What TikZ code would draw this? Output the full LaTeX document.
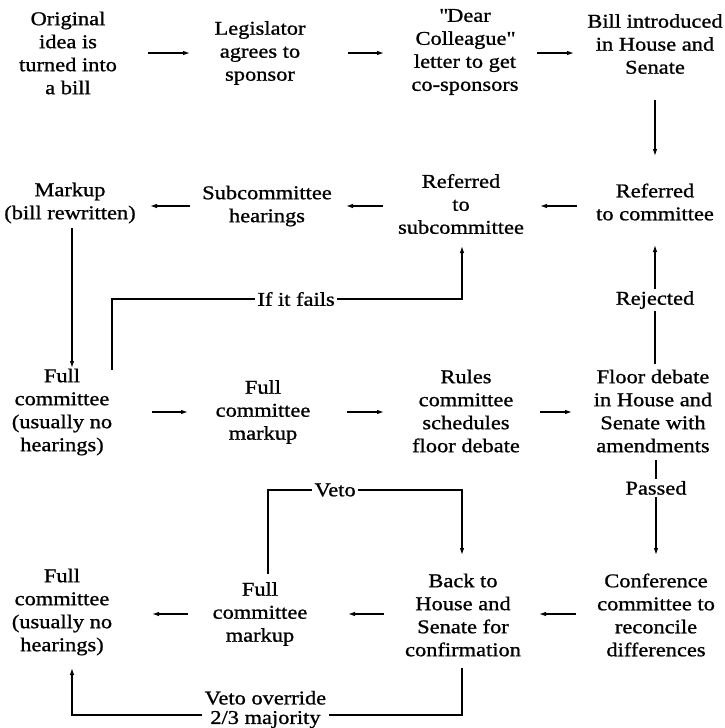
\documentclass[tikz,border=0pt]{standalone}
\usepackage{fontspec}
\setmainfont{Liberation Serif}[FakeStretch=1.15,FakeBold=1]
\usepackage{tikz}
\usetikzlibrary{arrows.meta}

\begin{document}
\begin{tikzpicture}
  [x=1pt,y=-1pt,>={Latex[length=7pt,width=4.5pt]},line width=1.2pt,
   every node/.style={align=center,inner sep=2pt,font=\fontsize{19.5}{23}\selectfont},
   lbl/.style={fill=white,inner sep=2.5pt}]
  \useasboundingbox (0,0) rectangle (724,728);
  % first row
  \node (idea) at (68,53) {Original\\idea is\\turned into\\a bill};
  \node (sponsor) at (260,53) {Legislator\\agrees to\\sponsor};
  \node (letter) at (465,52) {\textquotedbl Dear\\Colleague\textquotedbl\\letter to get\\co-sponsors};
  \node (intro) at (655,44) {Bill introduced\\in House and\\Senate};
  % second row
  \node (markup) at (70,203) {Markup\\(bill rewritten)};
  \node (subhear) at (267,206) {Subcommittee\\hearings};
  \node (refsub) at (461,204) {Referred\\to\\subcommittee};
  \node (refcom) at (655,202) {Referred\\to committee};
  % third row
  \node (fullA) at (62,412) {Full\\committee\\(usually no\\hearings)};
  \node (markA) at (263,412) {Full\\committee\\markup};
  \node (rules) at (466,411) {Rules\\committee\\schedules\\floor debate};
  \node (floor) at (653,411) {Floor debate\\in House and\\Senate with\\amendments};
  % fourth row
  \node (fullB) at (62,612) {Full\\committee\\(usually no\\hearings)};
  \node (markB) at (260,614) {Full\\committee\\markup};
  \node (back) at (463,615) {Back to\\House and\\Senate for\\confirmation};
  \node (conf) at (656,615) {Conference\\committee to\\reconcile\\differences};

  \foreach \from/\to/\row/\s/\e in {idea/sponsor/idea/80/70,sponsor/letter/idea/88/81,
      letter/intro/idea/72/81,refcom/refsub/subhear/78/79,refsub/subhear/subhear/78/79,
      subhear/markup/subhear/77/80,fullA/markA/fullA/90/75,markA/rules/fullA/84/82,
      rules/floor/fullA/74/81,conf/back/markB/80/76,back/markB/markB/79/88,
      markB/fullB/markB/72/90}
    \draw[->,shorten <=\s pt,shorten >=\e pt] (\from |- \row) -- (\to |- \row);

  \draw[->,shorten <=56pt,shorten >=46pt] (refcom |- intro) -- (refcom.center);
  \draw[->,shorten <=25pt,shorten >=44pt] ([xshift=2pt]markup.center) -- ([xshift=2pt]markup |- fullA);
  \draw[->,shorten <=42pt,shorten >=42pt] ([xshift=50pt]fullA.center) -- ++(0,-113)
    -| node[lbl,pos=0.263] {If it fails} ([xshift=1pt]refsub.center);
  \draw[->,shorten <=47pt,shorten >=43pt] (refcom |- floor) -- node[lbl,pos=0.531] {Rejected} (refcom.center);
  \draw[->,shorten <=49pt,shorten >=60pt] (conf |- floor) -- node[lbl,pos=0.377] {Passed} (conf.center);
  \draw[->,shorten <=40pt,shorten >=60pt] ([xshift=8pt]markB.center) -- ++(0,-124)
    -| node[lbl,pos=0.173] {Veto} ([xshift=-1pt]back.center);
  \draw[->,shorten <=53pt,shorten >=56pt] ([xshift=-1pt]back.center) -- ++(0,100)
    -| node[lbl,pos=0.252,yshift=5.5pt,font=\fontsize{19.5}{19.5}\selectfont] {Veto override\\2/3 majority} ([xshift=10pt]fullB.center);

\end{tikzpicture}
\end{document}
